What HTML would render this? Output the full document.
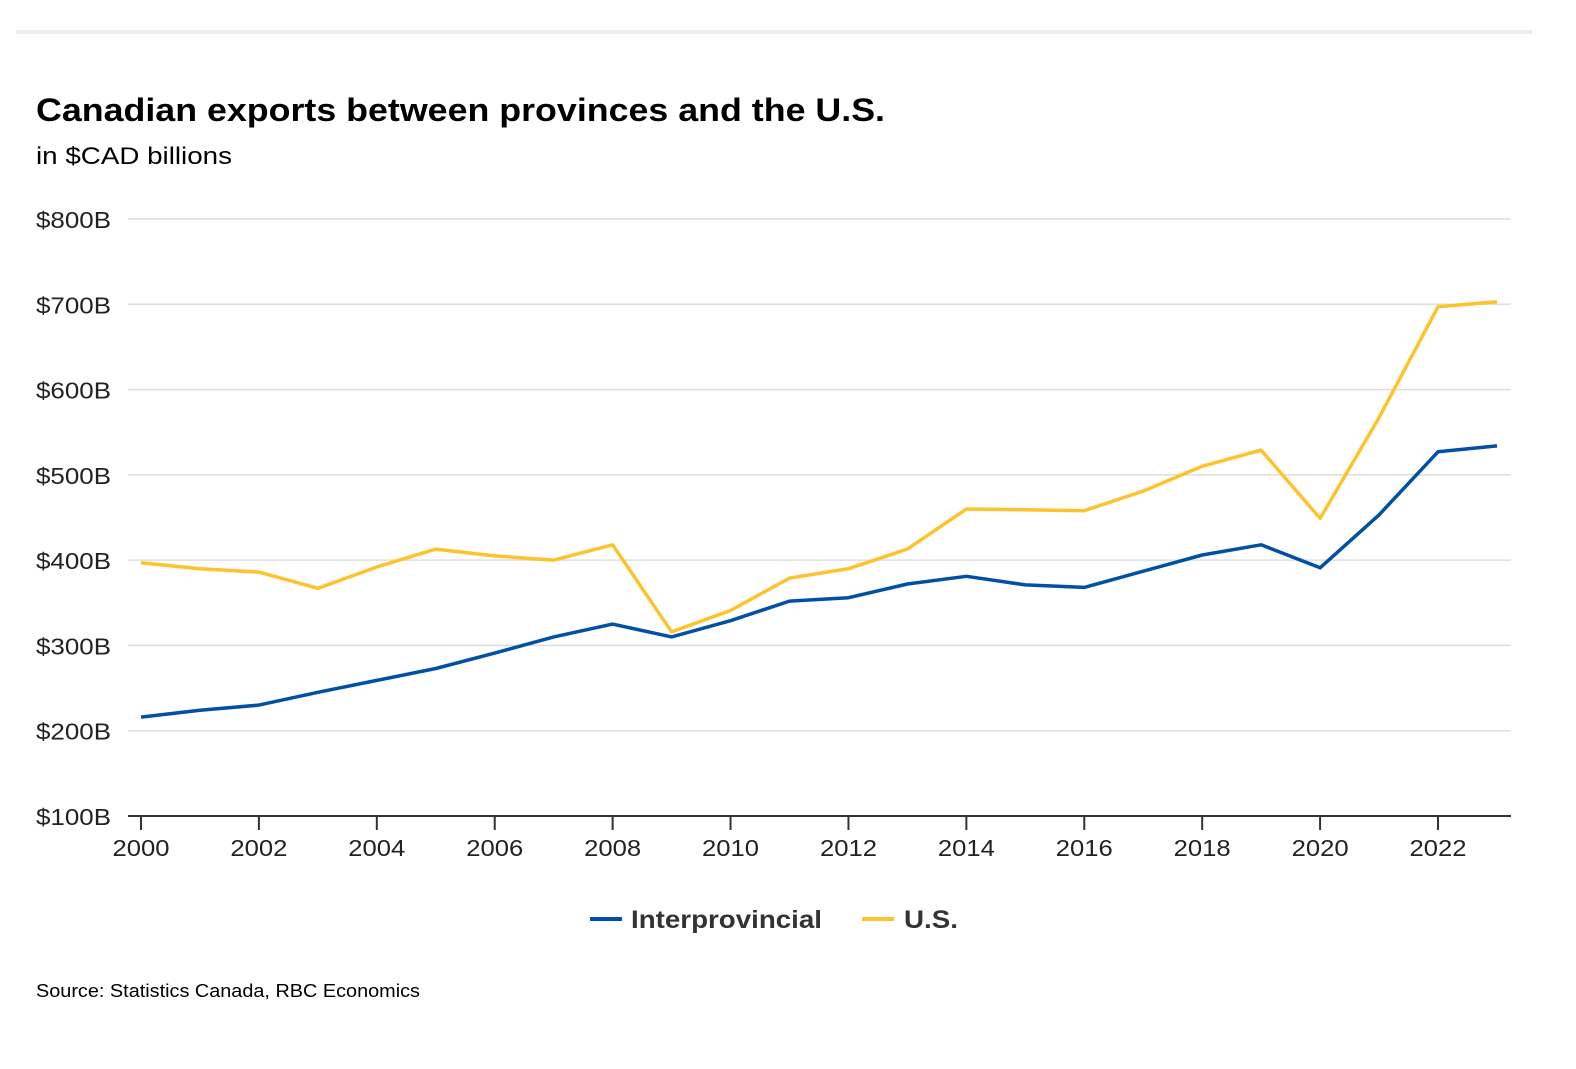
<!DOCTYPE html>
<html><head><meta charset="utf-8"><style>
body{margin:0;background:#fff;font-family:"Liberation Sans",Arial,sans-serif;}
svg text{font-family:"Liberation Sans",Arial,sans-serif;}
</style></head><body>
<svg id="chart" width="1576" height="1064" xmlns="http://www.w3.org/2000/svg">
<rect x="16" y="30" width="1516" height="4" fill="#ececec"/>
<text x="36" y="121" font-size="32" font-weight="bold" fill="#000" textLength="849" lengthAdjust="spacingAndGlyphs">Canadian exports between provinces and the U.S.</text>
<text x="36" y="164" font-size="24" fill="#000" textLength="196" lengthAdjust="spacingAndGlyphs">in $CAD billions</text>
<g id="grid"></g><g id="axes"></g><g id="series"></g>
<g>
<line x1="590" y1="919" x2="622" y2="919" stroke="#0051a5" stroke-width="4"/>
<text x="631" y="928" font-size="25" font-weight="bold" fill="#333" textLength="191" lengthAdjust="spacingAndGlyphs">Interprovincial</text>
<line x1="862" y1="919" x2="894" y2="919" stroke="#fcc32d" stroke-width="4"/>
<text x="904" y="928" font-size="25" font-weight="bold" fill="#333" textLength="54" lengthAdjust="spacingAndGlyphs">U.S.</text>
</g>
<text x="36" y="997" font-size="18" fill="#000" textLength="384" lengthAdjust="spacingAndGlyphs">Source: Statistics Canada, RBC Economics</text>
</svg>
<script>
const years=[2000,2001,2002,2003,2004,2005,2006,2007,2008,2009,2010,2011,2012,2013,2014,2015,2016,2017,2018,2019,2020,2021,2022,2023];
const interprovincial=[216,224,230,245,259,273,291,310,325,310,329,352,356,372,381,371,368,387,406,418,391,453,527,534];
const us=[397,390,386,367,392,413,405,400,418,316,341,379,390,413,460,459,458,481,510,529,449,567,697,703];
const yTicks=[100,200,300,400,500,600,700,800];
const xTicks=[2000,2002,2004,2006,2008,2010,2012,2014,2016,2018,2020,2022];
const NS="http://www.w3.org/2000/svg";
const x=v=>141+(v-2000)*(1297/22);
const y=v=>816-(v-100)*(597/700);
function mk(t,a,p){const e=document.createElementNS(NS,t);for(const k in a)e.setAttribute(k,a[k]);p.appendChild(e);return e;}
const grid=document.getElementById('grid'),axes=document.getElementById('axes'),ser=document.getElementById('series');
yTicks.forEach(v=>{
 if(v>100){const l=mk('line',{x1:128,x2:1511,y1:y(v),y2:y(v),stroke:'#dedede','stroke-width':1.5},grid);
 
 }
 const t=mk('text',{x:36,y:y(v)+9,'font-size':23,fill:'#222',textLength:75,lengthAdjust:'spacingAndGlyphs'},axes);
 t.textContent='$'+v+'B';
 
 
});
const ax=mk('line',{x1:128,x2:1511,y1:816,y2:816,stroke:'#333','stroke-width':2},axes);


xTicks.forEach(v=>{
 const tk=mk('line',{x1:x(v),x2:x(v),y1:816,y2:830,stroke:'#333','stroke-width':2},axes);
 
 
 const t=mk('text',{x:x(v)-28.5,y:856,'font-size':23,fill:'#222',textLength:57,lengthAdjust:'spacingAndGlyphs'},axes);
 t.textContent=v;
 
 
});
function line(vals,color,name){
 const d=vals.map((v,i)=>(i?'L':'M')+x(years[i]).toFixed(1)+','+y(v).toFixed(1)).join(' ');
 const p=mk('path',{d:d,fill:'none',stroke:color,'stroke-width':3.5,'stroke-linejoin':'round'},ser);
 
 
}
line(us,'#fcc32d','us-line');
line(interprovincial,'#0051a5','interprovincial-line');
</script>
</body></html>
